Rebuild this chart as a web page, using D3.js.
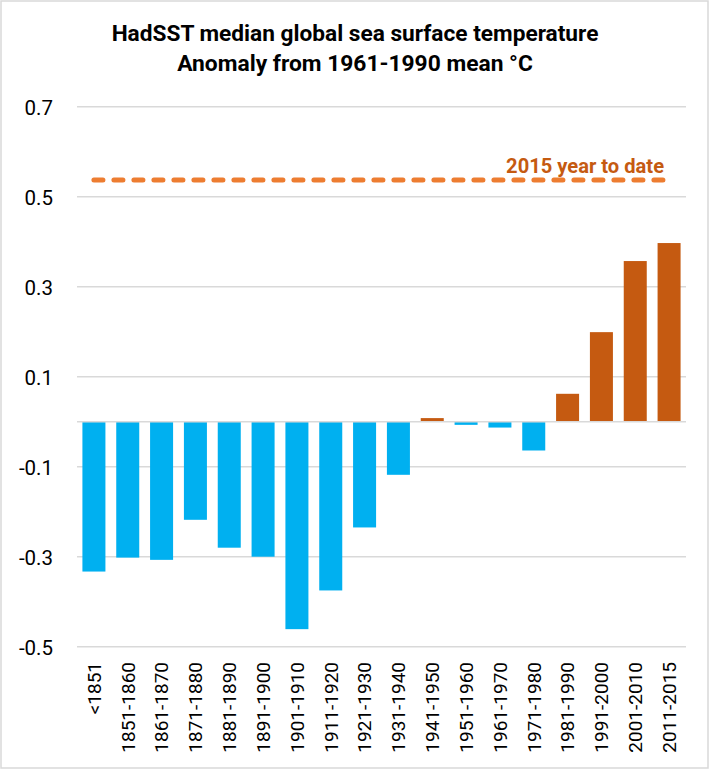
<!DOCTYPE html>
<html>
<head>
<meta charset="utf-8">
<script src="https://cdn.jsdelivr.net/npm/d3@7"></script>
<style>
  html, body { margin: 0; padding: 0; background: #fff; }
  svg { display: block; }
</style>
</head>
<body>
<svg id="chart" width="710" height="770"></svg>
<script>
const categories = ["<1851","1851-1860","1861-1870","1871-1880","1881-1890","1891-1900",
  "1901-1910","1911-1920","1921-1930","1931-1940","1941-1950","1951-1960",
  "1961-1970","1971-1980","1981-1990","1991-2000","2001-2010","2011-2015"];
const values = [-0.333,-0.302,-0.307,-0.218,-0.280,-0.300,-0.461,-0.375,-0.235,-0.118,
  0.008,-0.007,-0.013,-0.064,0.062,0.199,0.357,0.397];
const ytd2015 = 0.537;
const ytdLabel = "2015 year to date";
const yTicks = [-0.5,-0.3,-0.1,0.1,0.3,0.5,0.7];
const titleLines = ["HadSST median global sea surface temperature", "Anomaly from 1961-1990 mean °C"];

const svg = d3.select("#chart");
const W = 710, H = 770;

svg.append("rect").attr("x",1).attr("y",1).attr("width",W-3).attr("height",H-3)
  .attr("fill","#fff").attr("stroke","#d9d9d9").attr("stroke-width",1.5);

const x = d3.scaleBand().domain(categories).range([77, 686]).paddingInner(0.32).paddingOuter(0.16);
const y = d3.scaleLinear().domain([-0.5, 0.7]).range([646.7, 106.7]);

// gridlines
svg.append("g").selectAll("line").data(yTicks).join("line")
  .attr("x1", 77).attr("x2", 686)
  .attr("y1", d => y(d)).attr("y2", d => y(d))
  .attr("stroke", "#d9d9d9").attr("stroke-width", 1.5);

// y axis labels
const yAxis = d3.axisLeft(y).tickValues(yTicks).tickSize(0).tickPadding(0)
  .tickFormat(d => d3.format(".1f")(d).replace("−","-"));
const gy = svg.append("g").attr("transform","translate(53,0)").call(yAxis);
gy.select(".domain").remove();
gy.selectAll("text").attr("font-family","Roboto").attr("font-size",20.5).attr("fill","#000")
  .attr("dy","0.36em");

// bars
svg.append("g").selectAll("rect").data(values).join("rect")
  .attr("x", (d,i) => x(categories[i]))
  .attr("width", x.bandwidth())
  .attr("y", d => y(Math.max(0,d)))
  .attr("height", d => Math.abs(y(d) - y(0)))
  .attr("fill", d => d >= 0 ? "#c55a11" : "#00b0f0");

// zero axis line
svg.append("line").attr("x1",77).attr("x2",686).attr("y1",y(0)).attr("y2",y(0))
  .attr("stroke","#d9d9d9").attr("stroke-width",1.5);

// x axis labels
const xAxis = d3.axisBottom(x).tickSize(0).tickPadding(0);
const gx = svg.append("g").attr("transform", "translate(0,662)").call(xAxis);
gx.select(".domain").remove();
gx.selectAll("text")
  .attr("font-family","Roboto").attr("font-size",19).attr("fill","#000")
  .attr("transform","rotate(-90)")
  .attr("text-anchor","end")
  .attr("x",0).attr("y",0).attr("dy","0.36em");

// 2015 year to date dashed line
const x0 = x(categories[0]) + x.bandwidth()/2;
const x1 = x(categories[categories.length-1]) + x.bandwidth()/2;
svg.append("line").attr("x1",x0).attr("x2",x1).attr("y1",y(ytd2015)).attr("y2",y(ytd2015))
  .attr("stroke","#ed7d31").attr("stroke-width",5)
  .attr("stroke-dasharray","9,11").attr("stroke-linecap","round");

function fitText(sel, target) {
  let fs = +sel.attr("font-size");
  const w = sel.node().getComputedTextLength();
  if (w > 0) sel.attr("font-size", fs * target / w);
  return sel;
}

const ann = svg.append("text").attr("x",664).attr("y",173.3)
  .attr("text-anchor","end").attr("font-family","Roboto").attr("font-weight","bold")
  .attr("font-size",17).attr("fill","#c55a11").text(ytdLabel);
fitText(ann, 158);

// title
const t1 = svg.append("text").attr("x",355).attr("y",41).attr("text-anchor","middle")
  .attr("font-family","Roboto").attr("font-weight","bold").attr("font-size",20)
  .attr("fill","#000").text(titleLines[0]);
fitText(t1, 487);
const t2 = svg.append("text").attr("x",355).attr("y",71).attr("text-anchor","middle")
  .attr("font-family","Roboto").attr("font-weight","bold").attr("font-size",20)
  .attr("fill","#000").text(titleLines[1]);
fitText(t2, 356);
</script>
</body>
</html>
